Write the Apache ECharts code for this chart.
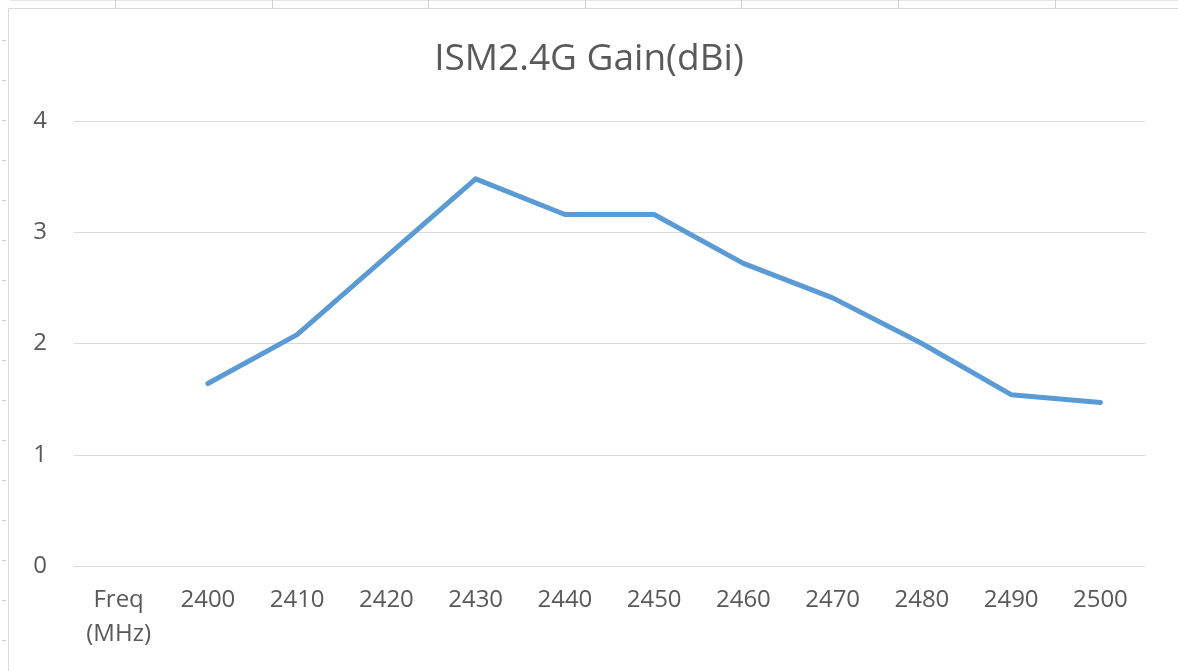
<!DOCTYPE html>
<html>
<head>
<meta charset="utf-8">
<script src="https://cdn.jsdelivr.net/npm/echarts@6/dist/echarts.min.js"></script>
<style>
  html, body { margin: 0; padding: 0; background: #fff; }
  #chart { width: 1178px; height: 671px; }
</style>
</head>
<body>
<div id="chart"></div>
<script>
// chart data
var freqLabels = ['Freq\n(MHz)', '2400', '2410', '2420', '2430', '2440', '2450', '2460', '2470', '2480', '2490', '2500'];
var gainValues = [null, 1.64, 2.08, 2.78, 3.48, 3.16, 3.16, 2.72, 2.41, 2.00, 1.54, 1.47];
var yTicks = [0, 1, 2, 3, 4];

var textColor = '#595959';
var gridColor = '#d9d9d9';

// spreadsheet leftovers around the chart frame
var deco = [
    {type: 'rect', shape: {x: 8.5, y: 8.5, width: 1180, height: 670}, style: {fill: 'none', stroke: gridColor, lineWidth: 1}, silent: true},
    {type: 'line', shape: {x1: 10, y1: 0.5, x2: 1178, y2: 0.5}, style: {stroke: '#e6e6e6', lineWidth: 1}, silent: true}
];
[115, 272, 428, 585, 741, 898, 1055].forEach(function (x) {
    deco.push({type: 'line', shape: {x1: x + 0.5, y1: 0, x2: x + 0.5, y2: 8}, style: {stroke: '#d0d0d0', lineWidth: 1}, silent: true});
});
for (var yy = 40; yy < 671; yy += 40) {
    deco.push({type: 'line', shape: {x1: 2, y1: yy + 0.5, x2: 6, y2: yy + 0.5}, style: {stroke: '#d0d0d0', lineWidth: 1}, silent: true});
}

var chart = echarts.init(document.getElementById('chart'), null, {renderer: 'canvas'});
chart.setOption({
    animation: false,
    backgroundColor: '#fff',
    title: {
        text: 'ISM2.4G Gain(dBi)',
        left: 'center',
        top: 36,
        textStyle: {fontFamily: 'Open Sans', fontSize: 37, fontWeight: 'normal', color: textColor}
    },
    grid: {left: 74, right: 33, top: 121, bottom: 105, containLabel: false},
    xAxis: {
        type: 'category',
        data: freqLabels,
        boundaryGap: true,
        axisLine: {show: true, lineStyle: {color: gridColor, width: 1}},
        axisTick: {show: false},
        axisLabel: {
            interval: 0,
            margin: 17,
            color: textColor,
            fontFamily: 'Open Sans',
            fontSize: 24,
            lineHeight: 34
        }
    },
    yAxis: {
        type: 'value',
        min: yTicks[0],
        max: yTicks[yTicks.length - 1],
        interval: 1,
        axisLine: {show: false},
        axisTick: {show: false},
        splitLine: {lineStyle: {color: gridColor, width: 1}},
        axisLabel: {
            margin: 27,
            color: textColor,
            fontFamily: 'Open Sans',
            fontSize: 24
        }
    },
    series: [{
        type: 'line',
        data: gainValues,
        showSymbol: false,
        connectNulls: false,
        lineStyle: {color: '#5b9bd5', width: 5, cap: 'round', join: 'round'},
        itemStyle: {color: '#5b9bd5'}
    }],
    graphic: deco
});
</script>
</body>
</html>
